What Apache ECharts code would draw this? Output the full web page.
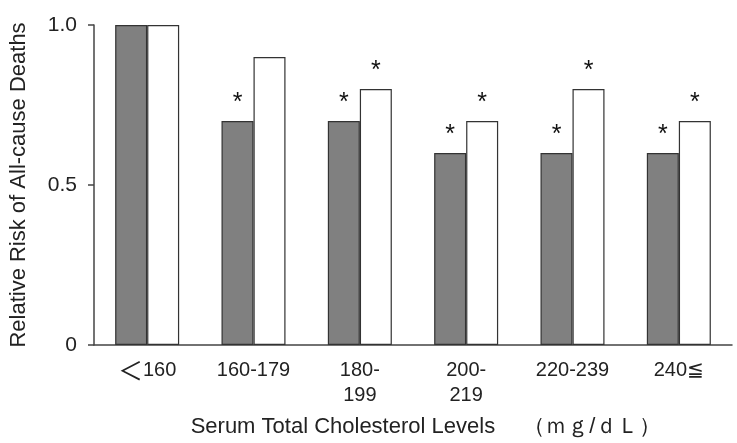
<!DOCTYPE html>
<html>
<head>
<meta charset="utf-8">
<script src="https://cdn.jsdelivr.net/npm/echarts@6/dist/echarts.min.js"></script>
<style>
  html, body { margin: 0; padding: 0; background: #fff; }
  #chart { width: 737px; height: 443px; }
</style>
</head>
<body>
<div id="chart"></div>
<script>
// ---- data ----
const categories = ['＜160', '160-179', '180-\n199', '200-\n219', '220-239', '240≦'];
const greyValues = [1.0, 0.7, 0.7, 0.6, 0.6, 0.6];
const whiteValues = [1.0, 0.9, 0.8, 0.7, 0.8, 0.7];
const greySignificant = [false, true, true, true, true, true];
const whiteSignificant = [false, false, true, true, true, true];
const yTicks = [0, 0.5, 1.0];
const yTickLabels = ['0', '0.5', '1.0'];
const yAxisTitle = 'Relative Risk of All-cause Deaths';
const xAxisTitle = 'Serum Total Cholesterol Levels　 （ｍｇ/ｄＬ）';

const FONT = 'Liberation Sans, Arial, Helvetica, sans-serif';
const chart = echarts.init(document.getElementById('chart'), null, { renderer: 'canvas' });

function starLabel(flags) {
  return {
    show: true,
    position: 'top',
    distance: 5,
    fontFamily: FONT,
    fontSize: 25,
    color: '#111',
    formatter: p => (flags[p.dataIndex] ? '*' : '')
  };
}

chart.setOption({
  animation: false,
  backgroundColor: '#fff',
  grid: { left: 93, right: 5, top: 25, bottom: 98, containLabel: false },
  xAxis: {
    type: 'category',
    data: categories,
    axisLine: { show: true, lineStyle: { color: '#444', width: 1.5 } },
    axisTick: { show: false },
    axisLabel: {
      fontFamily: FONT, fontSize: 20, color: '#222', margin: 13, lineHeight: 25,
      interval: 0,
      formatter: v => v.replace('＜', '{lt|＜}'),
      rich: {
        lt: { fontFamily: 'Noto Sans CJK JP', fontSize: 25, color: '#222', lineHeight: 25 }
      }
    },
    name: xAxisTitle,
    nameLocation: 'middle',
    nameGap: 71,
    nameTextStyle: { fontFamily: FONT, fontSize: 22, color: '#222', padding: [0, 0, 0, 26] }
  },
  yAxis: {
    type: 'value',
    min: 0, max: 1, interval: 0.5,
    axisLine: { show: true, lineStyle: { color: '#444', width: 1.5 } },
    axisTick: { show: true, inside: false, length: 6, lineStyle: { color: '#444', width: 1.5 } },
    splitLine: { show: false },
    axisLabel: {
      fontFamily: FONT, fontSize: 21, color: '#222', margin: 17,
      formatter: v => {
        const i = yTicks.findIndex(t => Math.abs(t - v) < 1e-9);
        return i >= 0 ? yTickLabels[i] : '';
      }
    },
    name: yAxisTitle,
    nameLocation: 'middle',
    nameGap: 64,
    nameTextStyle: { fontFamily: FONT, fontSize: 22, color: '#222' }
  },
  series: [
    {
      type: 'bar',
      data: greyValues,
      barWidth: 32,
      barGap: '0%',
      itemStyle: { color: '#808080', borderColor: '#333', borderWidth: 1.2 },
      label: starLabel(greySignificant)
    },
    {
      type: 'bar',
      data: whiteValues,
      barWidth: 32,
      barGap: '0%',
      itemStyle: { color: '#ffffff', borderColor: '#333', borderWidth: 1.2 },
      label: starLabel(whiteSignificant)
    }
  ]
});
</script>
</body>
</html>
